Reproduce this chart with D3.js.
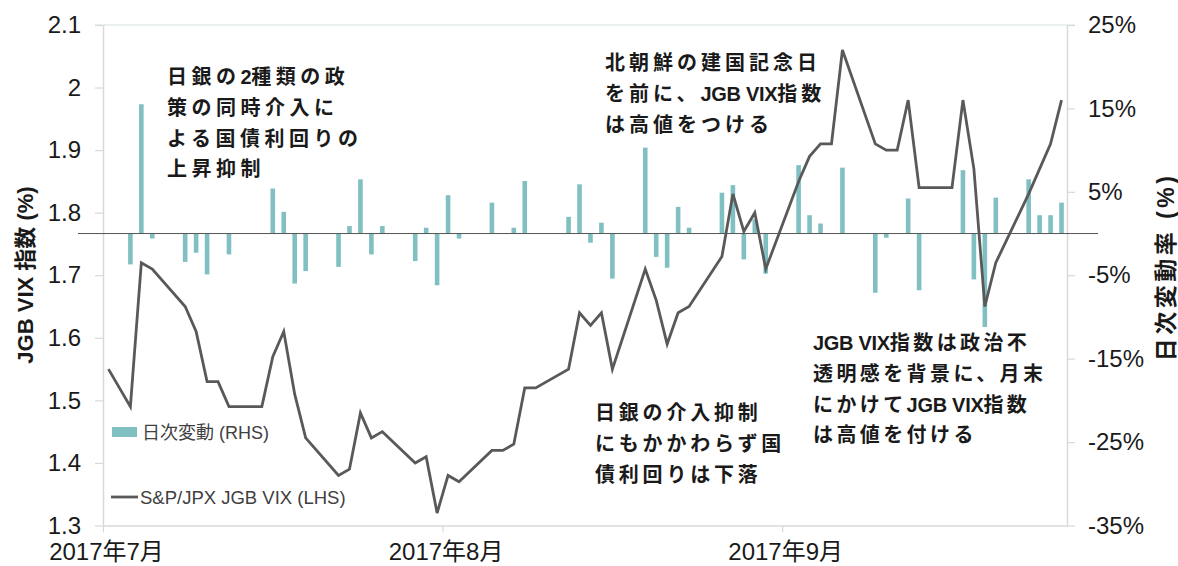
<!DOCTYPE html>
<html>
<head>
<meta charset="utf-8">
<script src="https://cdnjs.cloudflare.com/ajax/libs/d3/7.8.5/d3.min.js"></script>
<style>
  body { margin: 0; background: #fff; }
  svg text { font-family: "Liberation Sans", "Noto Sans CJK JP", sans-serif; }
</style>
</head>
<body>
<svg id="chart"></svg>
<script>
// trading days
const dates = [
  "2017-07-03","2017-07-05","2017-07-06","2017-07-07","2017-07-10","2017-07-11","2017-07-12","2017-07-13","2017-07-14",
  "2017-07-17","2017-07-18","2017-07-19","2017-07-20","2017-07-21","2017-07-24","2017-07-25","2017-07-26","2017-07-27",
  "2017-07-28","2017-07-31","2017-08-01","2017-08-02","2017-08-03","2017-08-04","2017-08-07","2017-08-08","2017-08-09",
  "2017-08-10","2017-08-11","2017-08-14","2017-08-15","2017-08-16","2017-08-17","2017-08-18","2017-08-21","2017-08-22",
  "2017-08-23","2017-08-24","2017-08-25","2017-08-28","2017-08-29","2017-08-30","2017-08-31","2017-09-01","2017-09-04",
  "2017-09-05","2017-09-06","2017-09-07","2017-09-08","2017-09-11","2017-09-12","2017-09-13","2017-09-14","2017-09-15",
  "2017-09-18","2017-09-19","2017-09-20","2017-09-21","2017-09-22","2017-09-25","2017-09-26","2017-09-27","2017-09-28"
];

// S&P/JPX JGB VIX (LHS)
const vix = [
  1.55, 1.49, 1.72, 1.71, 1.65, 1.61, 1.53, 1.53, 1.49,
  1.49, 1.57, 1.61, 1.51, 1.44, 1.38, 1.39, 1.48, 1.44,
  1.45, 1.40, 1.41, 1.32, 1.38, 1.37, 1.42, 1.42, 1.43,
  1.52, 1.52, 1.55, 1.64, 1.62, 1.64, 1.55, 1.71, 1.66,
  1.59, 1.64, 1.65, 1.73, 1.83, 1.77, 1.80, 1.71, 1.85,
  1.89, 1.91, 1.91, 2.06, 1.91, 1.90, 1.90, 1.98, 1.84,
  1.84, 1.98, 1.87, 1.65, 1.72, 1.83, 1.87, 1.91, 1.98
];

// 日次変動 % (RHS)
const change = [
  null, -3.7, 15.5, -0.6, -3.4, -2.3, -4.9, 0, -2.5,
  0, 5.4, 2.6, -6.0, -4.5, -4.0, 0.9, 6.5, -2.5,
  0.9, -3.3, 0.7, -6.2, 4.6, -0.6, 3.7, 0, 0.7,
  6.3, 0, 2.0, 5.9, -1.1, 1.3, -5.4, 10.3, -2.8,
  -4.1, 3.2, 0.7, 4.9, 5.8, -3.1, 1.7, -4.8, 8.2,
  2.2, 1.2, 0, 7.9, -7.1, -0.5, 0, 4.2, -6.8,
  0, 7.6, -5.5, -11.2, 4.3, 6.5, 2.2, 2.2, 3.7
];

const leftTicks = [1.3, 1.4, 1.5, 1.6, 1.7, 1.8, 1.9, 2.0, 2.1];
const rightTicks = [-35, -25, -15, -5, 5, 15, 25];
const monthTicks = ["2017-07-03", "2017-08-03", "2017-09-03"];
const monthLabels = ["2017年7月", "2017年8月", "2017年9月"];

const notes = [
  { x: 167, y: 77, ls: 4.5, lines: ["日銀の2種類の政", "策の同時介入に", "よる国債利回りの", "上昇抑制"] },
  { x: 605, y: 63, ls: 4, lines: ["北朝鮮の建国記念日", "を前に、JGB VIX指数", "は高値をつける"] },
  { x: 595, y: 413, ls: 3.8, lines: ["日銀の介入抑制", "にもかかわらず国", "債利回りは下落"] },
  { x: 813, y: 343, ls: 3.4, lines: ["JGB VIX指数は政治不", "透明感を背景に、月末", "にかけてJGB VIX指数", "は高値を付ける"] }
];

(function () {
  const W = 1178, H = 566;
  const mLeft = 103, mRight = 1067, mTop = 25, mBottom = 525.5;
  const parse = d3.timeParse("%Y-%m-%d");

  const svg = d3.select("#chart").attr("width", W).attr("height", H);

  const x = d3.scaleTime()
    .domain([parse("2017-07-03"), parse("2017-09-29")])
    .range([mLeft, mRight]);
  const yL = d3.scaleLinear().domain([1.3, 2.1]).range([mBottom, mTop]);
  const yR = d3.scaleLinear().domain([-35, 25]).range([mBottom, mTop]);

  const mid = s => d3.timeHour.offset(parse(s), 12);
  const rows = dates.map((d, i) => ({ date: mid(d), v: vix[i], c: change[i] }));

  const gridColor = "#d9d9d9";

  // top border line
  svg.append("line")
    .attr("x1", mLeft - 8).attr("x2", mRight + 8)
    .attr("y1", mTop).attr("y2", mTop)
    .attr("stroke", "#d6e2e2").attr("stroke-width", 1.2);

  const axL = svg.append("g")
    .attr("transform", `translate(${mLeft},0)`)
    .call(d3.axisLeft(yL).tickValues(leftTicks).tickSize(8).tickPadding(14)
      .tickFormat(d => String(+d.toFixed(1))).tickSizeOuter(0));

  const axR = svg.append("g")
    .attr("transform", `translate(${mRight},0)`)
    .call(d3.axisRight(yR).tickValues(rightTicks).tickSize(8).tickPadding(13)
      .tickFormat(d => d + "%").tickSizeOuter(0));

  const axB = svg.append("g")
    .attr("transform", `translate(0,${mBottom})`)
    .call(d3.axisBottom(x).tickValues(monthTicks.map(parse)).tickSize(7).tickPadding(10)
      .tickFormat((d, i) => monthLabels[i]).tickSizeOuter(0));

  [axL, axR, axB].forEach(g => {
    g.select(".domain").attr("stroke", gridColor).attr("stroke-width", 1.5);
    g.selectAll(".tick line").attr("stroke", gridColor).attr("stroke-width", 1.2);
    g.selectAll(".tick text").attr("fill", "#1a1a1a").style("font-size", "24px");
  });
  axB.selectAll(".tick text").attr("dy", "0.72em").attr("dx", 3);

  // bars
  svg.append("g")
    .selectAll("rect")
    .data(rows.filter(d => d.c))
    .join("rect")
    .attr("x", d => x(d.date) - 2.3)
    .attr("width", 4.6)
    .attr("y", d => yR(Math.max(0, d.c)))
    .attr("height", d => Math.abs(yR(d.c) - yR(0)))
    .attr("fill", "#80c0c2");

  // zero line
  svg.append("line")
    .attr("x1", 78).attr("x2", 1098)
    .attr("y1", yR(0)).attr("y2", yR(0))
    .attr("stroke", "#555").attr("stroke-width", 1);

  // VIX line
  const line = d3.line().x(d => x(d.date)).y(d => yL(d.v));
  svg.append("path")
    .datum(rows)
    .attr("d", line)
    .attr("fill", "none")
    .attr("stroke", "#595959")
    .attr("stroke-width", 2.8);

  // axis titles
  svg.append("text")
    .attr("transform", "translate(25,275) rotate(-90)")
    .attr("text-anchor", "middle")
    .attr("dominant-baseline", "central")
    .style("font-size", "22px").style("font-weight", "bold")
    .attr("fill", "#1a1a1a")
    .text("JGB VIX 指数 (%)");

  svg.append("text")
    .attr("transform", "translate(1166,267) rotate(-90)")
    .attr("text-anchor", "middle")
    .attr("dominant-baseline", "central")
    .style("font-size", "23px").style("font-weight", "bold")
    .style("letter-spacing", "3.5px")
    .attr("fill", "#1a1a1a")
    .text("日次変動率 (%)");

  // legend
  svg.append("rect").attr("x", 112).attr("y", 427).attr("width", 25).attr("height", 10).attr("fill", "#80c0c2");
  svg.append("text").attr("x", 142).attr("y", 433).attr("dominant-baseline", "central")
    .style("font-size", "18px").attr("fill", "#404040").text("日次変動 (RHS)");
  svg.append("line").attr("x1", 111).attr("x2", 138).attr("y1", 497).attr("y2", 497)
    .attr("stroke", "#595959").attr("stroke-width", 2.8);
  svg.append("text").attr("x", 140).attr("y", 497).attr("dominant-baseline", "central")
    .style("font-size", "18.5px").attr("fill", "#404040").text("S&P/JPX JGB VIX (LHS)");

  // annotations (latin runs kept tight, kana/kanji spaced)
  const latin = /^[A-Za-z0-9 ]+$/;
  notes.forEach(n => {
    const t = svg.append("text")
      .style("font-size", "20px").style("font-weight", "bold")
      .attr("fill", "#1a1a1a");
    n.lines.forEach((s, i) => {
      const parts = s.split(/([A-Za-z0-9](?:[A-Za-z0-9 ]*[A-Za-z0-9])?)/).filter(p => p.length);
      parts.forEach((p, j) => {
        const ts = t.append("tspan")
          .style("letter-spacing", latin.test(p) ? "-0.3px" : n.ls + "px")
          .text(p);
        if (j === 0) ts.attr("x", n.x).attr("y", n.y + 7 + i * 30.8);
      });
    });
  });
})();
</script>
</body>
</html>
